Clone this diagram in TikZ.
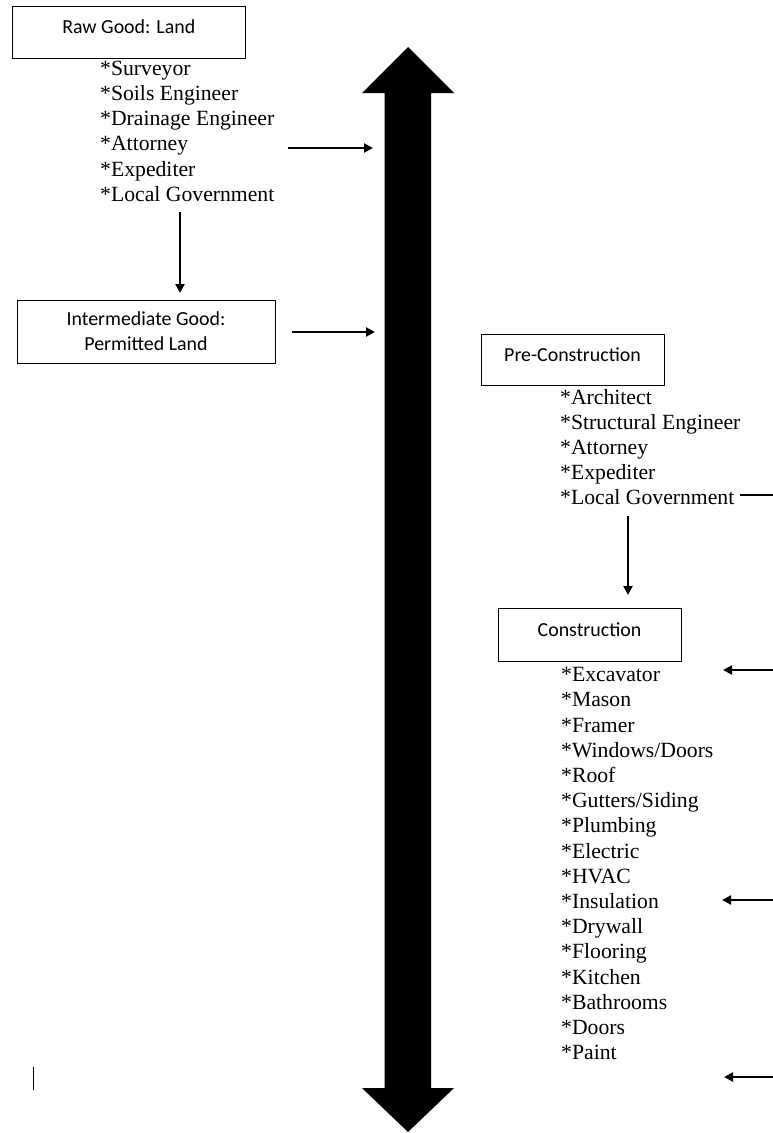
\documentclass[tikz,border=0pt]{standalone}
\usepackage{fontspec}
\setmainfont{Liberation Serif}
\newfontfamily\boxfont{Carlito}
\usetikzlibrary{arrows.meta}
\begin{document}
\begin{tikzpicture}[x=1pt,y=-1pt,
  box/.style={draw, line width=0.9pt, inner xsep=0pt, inner ysep=0pt, font=\boxfont\fontsize{19.9}{25}\selectfont},
  item/.style={anchor=base west, inner sep=0pt, font=\fontsize{21.7}{25}\selectfont},
  arr/.style={line width=2pt, -{Triangle[length=9pt,width=9pt]}},
  plainline/.style={line width=2pt}]
\useasboundingbox (0,0) rectangle (773,1133);
% big double arrow
\fill (408,47) -- (454,93) -- (431,93) -- (431,1088) -- (454,1088) -- (408,1132)
  -- (362,1088) -- (384.5,1088) -- (384.5,93) -- (362,93) -- cycle;
% boxes
\node[box, anchor=base, minimum width=233.6pt, text height=27.3pt, text depth=24.7pt] (raw) at (128.8,33.3) {Raw Good: Land};
\node[box, align=center, minimum width=258pt, minimum height=63pt] (inter) at (146,331.5) {Intermediate Good:\\Permitted Land};
\node[box, anchor=base, minimum width=183pt, text height=27.7pt, text depth=23.3pt] (pre) at (572.5,361.7) {Pre-Construction};
\node[box, anchor=base, minimum width=183pt, text height=28pt, text depth=25pt] (con) at (589.5,636) {Construction};
% lists
\foreach \t [count=\i] in {Surveyor,Soils Engineer,Drainage Engineer,Attorney,Expediter,Local Government}
  \node[item] (rl\i) at (100,{75+25.3*(\i-1)}) {*\t};
\foreach \t [count=\i] in {Architect,Structural Engineer,Attorney,Expediter,Local Government}
  \node[item] (pl\i) at (560,{404+25*(\i-1)}) {*\t};
\foreach \t [count=\i] in {Excavator,Mason,Framer,Windows/Doors,Roof,Gutters/Siding,Plumbing,Electric,HVAC,Insulation,Drywall,Flooring,Kitchen,Bathrooms,Doors,Paint}
  \node[item] (cl\i) at (561,{681.7+25.2*(\i-1)}) {*\t};
% connector end points
\coordinate (a1s) at (288,148);  \coordinate (a1e) at (373,148);
\coordinate (a2s) at (292,332);  \coordinate (a2e) at (375,332);
\coordinate (v1s) at (180,212);  \coordinate (v1e) at (180,293);
\coordinate (v2s) at (628,516);  \coordinate (v2e) at (628,595);
\coordinate (l1s) at (740,495);  \coordinate (l1e) at (773,495);
\coordinate (r1s) at (773,670);  \coordinate (r1e) at (723,670);
\coordinate (r2s) at (773,900);  \coordinate (r2e) at (722,900);
\coordinate (r3s) at (773,1077); \coordinate (r3e) at (724,1077);
% connectors
\draw[arr] (a1s) -- (a1e);
\draw[arr] (a2s) -- (a2e);
\draw[arr] (v1s) -- (v1e);
\draw[arr] (v2s) -- (v2e);
\draw[plainline] (l1s) -- (l1e);
\draw[arr] (r1s) -- (r1e);
\draw[arr] (r2s) -- (r2e);
\draw[arr] (r3s) -- (r3e);
% text cursor mark
\draw[line width=0.9pt] (33,1067) -- (33,1090);
\end{tikzpicture}
\end{document}
